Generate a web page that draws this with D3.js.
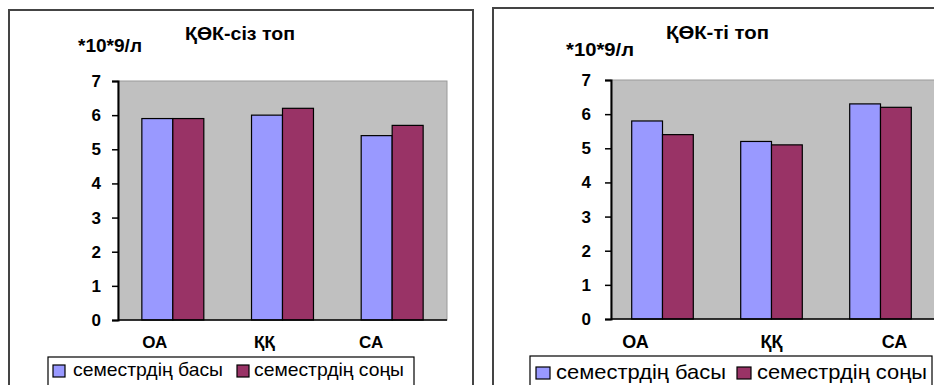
<!DOCTYPE html>
<html>
<head>
<meta charset="utf-8">
<script src="https://cdn.jsdelivr.net/npm/d3@7"></script>
<style>
  html, body { margin: 0; padding: 0; background: #fff; }
  svg { display: block; }
  text { font-family: "Liberation Sans", Arial, sans-serif; fill: #000; }
</style>
</head>
<body>
<svg id="chart" width="934" height="385"></svg>
<script>
// Leukocyte counts (×10^9/л) at start and end of semester
const categories = ["ОА", "ҚҚ", "СА"];
const seriesNames = ["семестрдің басы", "семестрдің соңы"];
const seriesColors = ["#9999FF", "#993366"];
const yTicks = [0, 1, 2, 3, 4, 5, 6, 7];
const unitLabel = "*10*9/л";

const titleA = "ҚӨК-сіз топ";
const startA = [5.9, 6.0, 5.4];
const endA = [5.9, 6.2, 5.7];

const titleB = "ҚӨК-ті топ";
const startB = [5.8, 5.2, 6.3];
const endB = [5.4, 5.1, 6.2];

const svg = d3.select("#chart");

function drawPanel(cfg) {
  const g = svg.append("g");

  // panel frame
  g.append("rect")
    .attr("x", cfg.frame[0]).attr("y", cfg.frame[1])
    .attr("width", cfg.frame[2]).attr("height", cfg.frame[3])
    .attr("fill", "#fff").attr("stroke", "#444").attr("stroke-width", 2);

  const y = d3.scaleLinear().domain([0, 7]).range([cfg.yBottom, cfg.yTop]);
  const x = d3.scaleBand().domain(categories)
    .range([cfg.bandLeft, cfg.bandRight])
    .paddingInner(0.435).paddingOuter(0.2175);
  const xs = d3.scaleBand().domain(seriesNames).range([0, x.bandwidth()]);

  // plot area
  g.append("rect")
    .attr("x", cfg.plotLeft).attr("y", y(7))
    .attr("width", cfg.plotRight - cfg.plotLeft).attr("height", y(0) - y(7))
    .attr("fill", "#C0C0C0").attr("stroke", "#9a9a9a").attr("stroke-width", 1);

  // bars
  const rows = categories.map((c, i) => ({ c, vals: [cfg.start[i], cfg.end[i]] }));
  g.selectAll("g.grp").data(rows).join("g")
    .attr("transform", d => `translate(${x(d.c)},0)`)
    .selectAll("rect").data(d => d.vals.map((v, k) => ({ v, k })))
    .join("rect")
      .attr("x", d => xs(seriesNames[d.k]))
      .attr("y", d => y(d.v))
      .attr("width", xs.bandwidth())
      .attr("height", d => y(0) - y(d.v))
      .attr("fill", d => seriesColors[d.k])
      .attr("stroke", "#000").attr("stroke-width", 1.2);

  // y axis
  const yAxis = d3.axisLeft(y).tickValues(yTicks).tickSize(6).tickPadding(cfg.tickPad)
    .tickFormat(d3.format("d"));
  const ya = g.append("g").attr("transform", `translate(${cfg.plotLeft},0)`).call(yAxis);
  ya.select(".domain").attr("stroke", "#000").attr("stroke-width", 2);
  ya.selectAll(".tick line").attr("stroke", "#000").attr("stroke-width", 1.5);
  ya.selectAll(".tick text")
    .attr("font-size", cfg.tickSize).attr("font-weight", "bold")
    .attr("font-family", "Liberation Sans, Arial, sans-serif");

  // x axis line
  g.append("line")
    .attr("x1", cfg.plotLeft).attr("x2", cfg.plotRight)
    .attr("y1", y(0)).attr("y2", y(0))
    .attr("stroke", "#000").attr("stroke-width", 1.5);

  // category labels
  g.selectAll("text.cat").data(categories).join("text")
    .attr("class", "cat")
    .attr("x", (d, i) => x(d) + x.bandwidth() / 2 + cfg.catShift[i])
    .attr("y", cfg.catBaseline)
    .attr("text-anchor", "middle")
    .attr("font-size", cfg.catSize).attr("font-weight", "bold")
    .text(d => d);

  // title and unit
  g.append("text")
    .attr("x", cfg.titleX).attr("y", cfg.titleY)
    .attr("font-size", 18).attr("font-weight", "bold")
    .attr("textLength", cfg.titleLen).attr("lengthAdjust", "spacingAndGlyphs")
    .text(cfg.title);
  g.append("text")
    .attr("x", cfg.unitX).attr("y", cfg.unitY)
    .attr("font-size", 18).attr("font-weight", "bold")
    .attr("textLength", cfg.unitLen).attr("lengthAdjust", "spacingAndGlyphs")
    .text(unitLabel);

  // legend
  const L = cfg.legend;
  g.append("rect")
    .attr("x", L.x).attr("y", L.y).attr("width", L.w).attr("height", 40)
    .attr("fill", "#fff").attr("stroke", "#000").attr("stroke-width", 1.2);
  seriesNames.forEach((name, k) => {
    g.append("rect")
      .attr("x", L.items[k]).attr("y", L.swY)
      .attr("width", L.swW).attr("height", L.swH)
      .attr("fill", seriesColors[k]).attr("stroke", "#000").attr("stroke-width", 1.2);
    g.append("text")
      .attr("x", L.text[k]).attr("y", L.textY)
      .attr("font-size", L.size)
      .attr("textLength", L.textLen).attr("lengthAdjust", "spacingAndGlyphs")
      .text(name);
  });
}

drawPanel({
  title: titleA, start: startA, end: endA,
  frame: [9, 10, 464, 400],
  yTop: 81, yBottom: 320,
  plotLeft: 118, plotRight: 447, bandLeft: 118, bandRight: 447,
  tickSize: 17, tickPad: 11, catSize: 17, catBaseline: 348, catShift: [-18, -18, -21],
  titleX: 185, titleY: 40, titleLen: 110,
  unitX: 78, unitY: 52, unitLen: 64,
  legend: { x: 48, y: 357, w: 366, items: [53, 237], text: [73, 254], swY: 365, swW: 12, swH: 12,
            textY: 376, size: 19, textLen: 150 }
});

drawPanel({
  title: titleB, start: startB, end: endB,
  frame: [493, 8, 460, 400],
  yTop: 80, yBottom: 319,
  plotLeft: 611, plotRight: 960, bandLeft: 608, bandRight: 935,
  tickSize: 17, tickPad: 14, catSize: 18, catBaseline: 348, catShift: [-27, 0, 14],
  titleX: 666, titleY: 39, titleLen: 103,
  unitX: 566, unitY: 56, unitLen: 68,
  legend: { x: 530, y: 356, w: 402, items: [536, 737], text: [556, 757], swY: 367, swW: 14, swH: 12,
            textY: 379, size: 21, textLen: 170 }
});
</script>
</body>
</html>
